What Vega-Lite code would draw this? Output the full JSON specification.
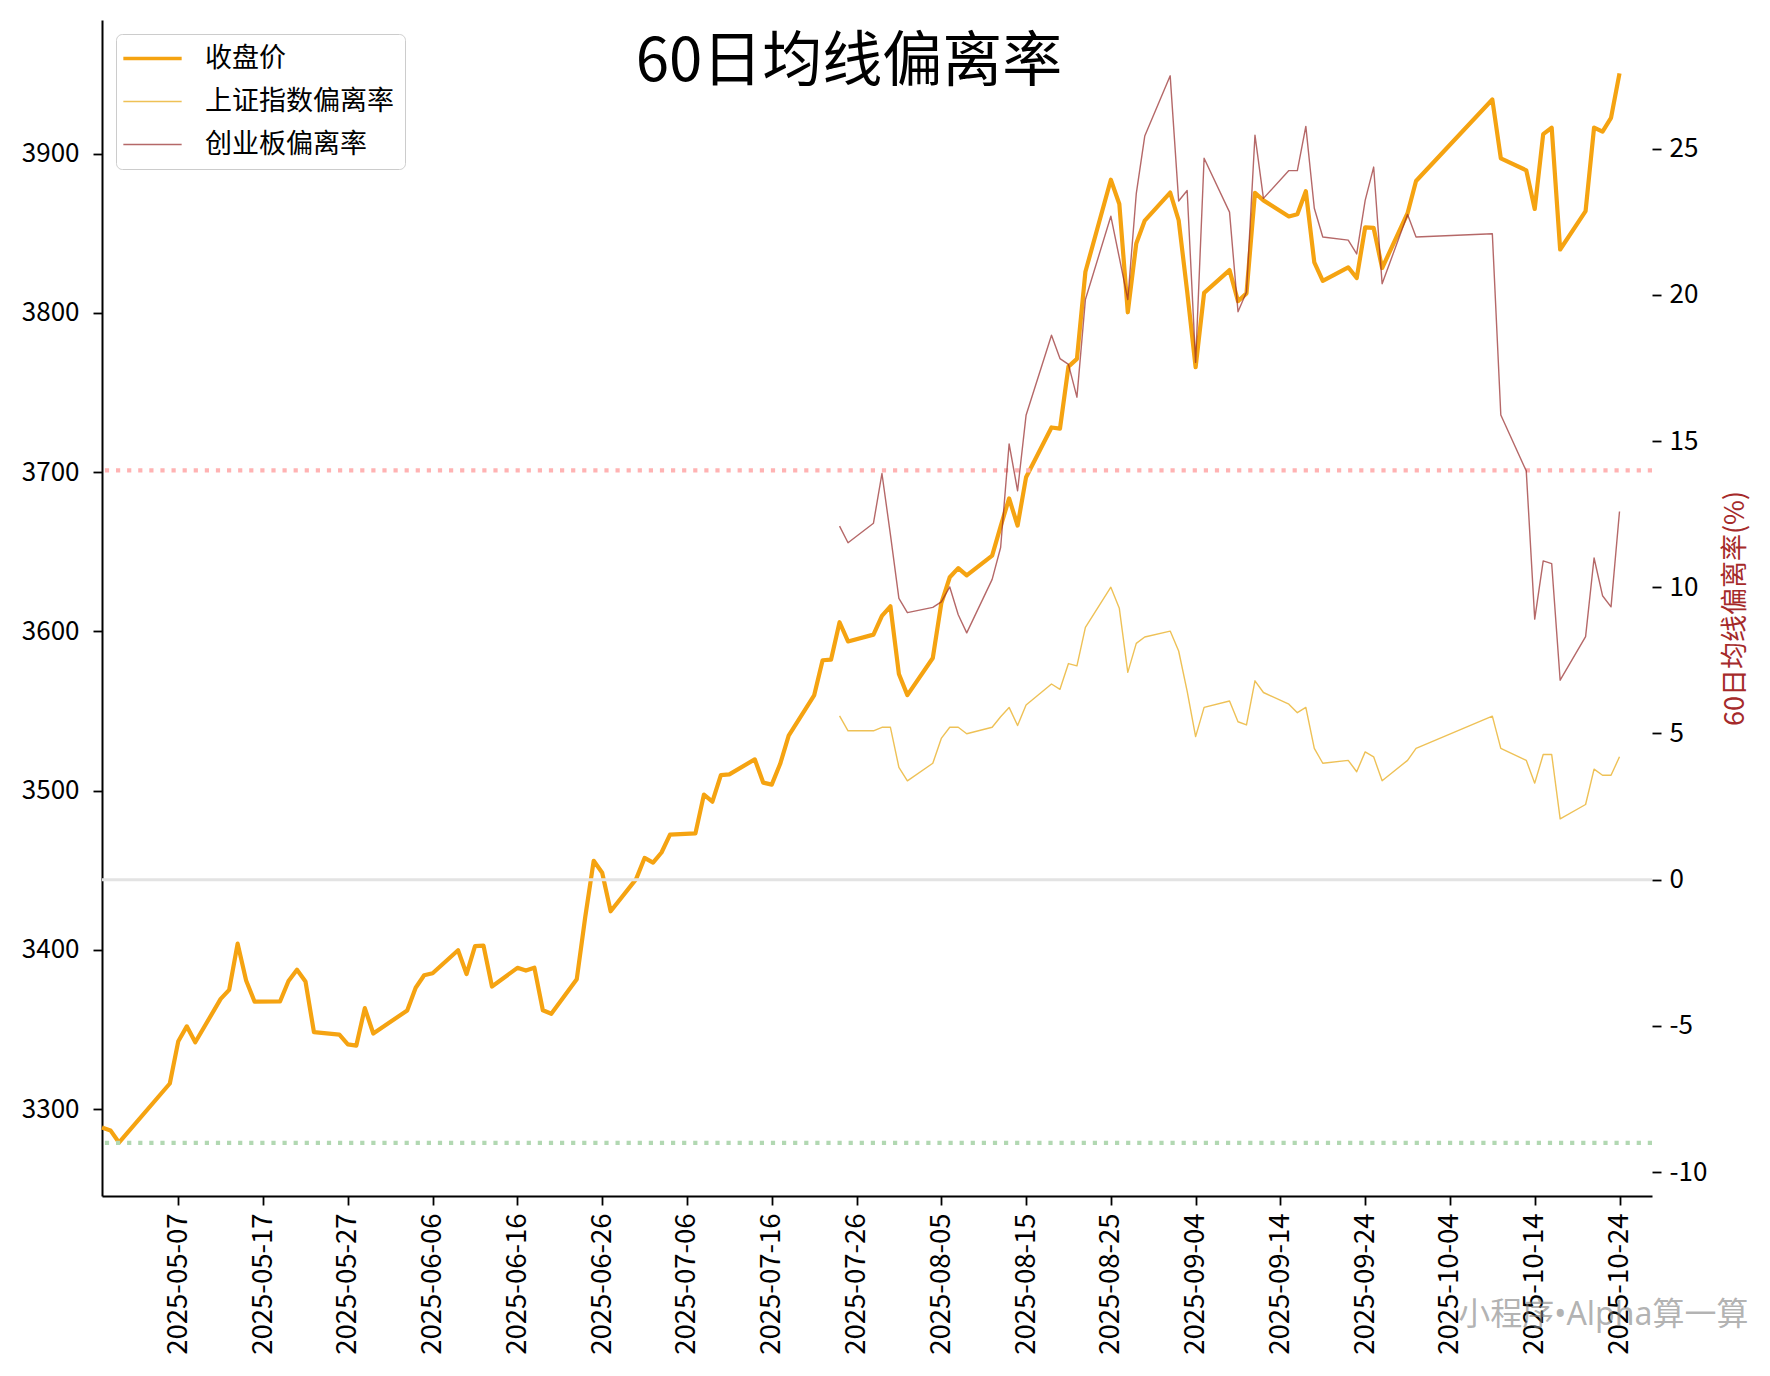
{
  "$schema": "https://vega.github.io/schema/vega-lite/v6.json",
  "width": 1550,
  "height": 1176,
  "autosize": {"type": "none"},
  "padding": {"left": 102, "top": 20, "right": 118, "bottom": 180},
  "background": "white",
  "config": {
    "view": {"stroke": null},
    "font": "Noto Sans CJK SC",
    "axis": {
      "labelFont": "Noto Sans CJK SC",
      "labelFontSize": 26,
      "labelColor": "black",
      "tickColor": "black",
      "domainColor": "black",
      "tickSize": 9,
      "tickWidth": 1.8,
      "domainWidth": 2,
      "grid": false,
      "labelPadding": 8,
      "labelFlush": false,
      "labelOverlap": false,
      "titleFontWeight": "normal"
    }
  },
  "title": {
    "text": "60日均线偏离率",
    "font": "Noto Sans CJK SC",
    "fontSize": 60,
    "fontWeight": "normal",
    "color": "black",
    "anchor": "middle",
    "frame": "group",
    "baseline": "bottom",
    "offset": -72,
    "dx": -28,
    "dy": 62
  },
  "data": {"name": "idx"},
  "layer": [
    {
      "mark": {"type": "line", "strokeWidth": 4.2, "strokeJoin": "round"},
      "encoding": {
        "x": {
          "field": "d",
          "type": "temporal",
          "scale": {
            "type": "utc",
            "domain": [
              {"year": 2025, "month": 4, "date": 28, "utc": true},
              {"year": 2025, "month": 10, "date": 27, "hours": 20, "utc": true}
            ]
          },
          "axis": {
            "orient": "bottom",
            "labelExpr": "utcFormat(datum.value, '%Y-%m-%d')",
            "labelAngle": 270,
            "labelFontSize": 27.5,
            "values": [
              {"year": 2025, "month": 5, "date": 7, "utc": true},
              {"year": 2025, "month": 5, "date": 17, "utc": true},
              {"year": 2025, "month": 5, "date": 27, "utc": true},
              {"year": 2025, "month": 6, "date": 6, "utc": true},
              {"year": 2025, "month": 6, "date": 16, "utc": true},
              {"year": 2025, "month": 6, "date": 26, "utc": true},
              {"year": 2025, "month": 7, "date": 6, "utc": true},
              {"year": 2025, "month": 7, "date": 16, "utc": true},
              {"year": 2025, "month": 7, "date": 26, "utc": true},
              {"year": 2025, "month": 8, "date": 5, "utc": true},
              {"year": 2025, "month": 8, "date": 15, "utc": true},
              {"year": 2025, "month": 8, "date": 25, "utc": true},
              {"year": 2025, "month": 9, "date": 4, "utc": true},
              {"year": 2025, "month": 9, "date": 14, "utc": true},
              {"year": 2025, "month": 9, "date": 24, "utc": true},
              {"year": 2025, "month": 10, "date": 4, "utc": true},
              {"year": 2025, "month": 10, "date": 14, "utc": true},
              {"year": 2025, "month": 10, "date": 24, "utc": true}
            ],
            "title": "小程序•Alpha算一算",
            "titleFont": "Noto Sans, Noto Sans CJK SC",
            "titleFontSize": 32,
            "titleColor": "rgba(128,128,128,0.6)",
            "titleAlign": "right",
            "titleBaseline": "alphabetic",
            "titleX": 1646,
            "titleY": 128
          }
        },
        "y": {
          "field": "收盘价",
          "type": "quantitative",
          "scale": {"domain": [3245.47, 3983.87], "nice": false, "zero": false},
          "axis": {
            "orient": "left",
            "values": [3300, 3400, 3500, 3600, 3700, 3800, 3900],
            "format": "d",
            "labelPadding": 14,
            "title": null
          }
        },
        "color": {
          "datum": "收盘价",
          "type": "nominal",
          "title": null,
          "scale": {
            "domain": ["收盘价", "上证指数偏离率", "创业板偏离率"],
            "range": ["#f5a311", "rgba(232,172,30,0.75)", "rgba(150,40,40,0.7)"]
          },
          "legend": {
            "title": null,
            "orient": "none",
            "legendX": 14,
            "legendY": 14,
            "symbolType": "stroke",
            "symbolSize": 3400,
            "symbolStrokeWidth": 1.4,
            "symbolOffset": 12,
            "labelFont": "Noto Sans CJK SC",
            "labelFontSize": 27,
            "labelColor": "black",
            "labelOffset": 39,
            "labelLimit": 400,
            "rowPadding": 15,
            "padding": 11,
            "strokeColor": "#cccccc",
            "fillColor": "rgba(255,255,255,0.8)",
            "cornerRadius": 6,
            "encode": {
              "symbols": {
                "update": {
                  "strokeWidth": {"signal": "datum.value === '收盘价' ? 3.5 : 1.4"}
                }
              }
            }
          }
        }
      }
    },
    {
      "encoding": {
        "y": {
          "field": "v",
          "type": "quantitative",
          "scale": {"domain": [-10.82, 29.4], "nice": false, "zero": false},
          "axis": {
            "orient": "right",
            "values": [-10, -5, 0, 5, 10, 15, 20, 25],
            "labelExpr": "'' + datum.value",
            "domain": false,
            "title": "60日均线偏离率(%)",
            "titleFont": "Noto Sans CJK SC",
            "titleFontSize": 27,
            "titleColor": "#a52a2a",
            "titleAngle": 270,
            "titleAlign": "center",
            "titleBaseline": "middle",
            "titleX": 83,
            "titleY": 588
          }
        }
      },
      "layer": [
        {
          "data": {"values": [{"v": 14}]},
          "mark": {"type": "rule", "color": "#ffb3b3", "strokeWidth": 4.2, "strokeDash": [4.2, 6.9]}
        },
        {
          "data": {"values": [{"v": 0}]},
          "mark": {"type": "rule", "color": "#e3e3e3", "strokeWidth": 3}
        },
        {
          "data": {"values": [{"v": -9}]},
          "mark": {"type": "rule", "color": "#b2d8b2", "strokeWidth": 4.2, "strokeDash": [4.2, 6.9]}
        },
        {
          "transform": [
            {"fold": ["上证指数偏离率", "创业板偏离率"], "as": ["series", "v"]},
            {"filter": "isValid(datum.v)"}
          ],
          "mark": {"type": "line", "strokeWidth": 1.4, "strokeJoin": "round"},
          "encoding": {
            "x": {
              "field": "d",
              "type": "temporal",
              "scale": {
                "type": "utc",
                "domain": [
                  {"year": 2025, "month": 4, "date": 28, "utc": true},
                  {"year": 2025, "month": 10, "date": 27, "hours": 20, "utc": true}
                ]
              }
            },
            "color": {"field": "series", "type": "nominal", "title": null, "legend": {"title": null}},
            "detail": {"field": "series"}
          }
        }
      ]
    }
  ],
  "resolve": {"scale": {"y": "independent"}},
  "datasets": {
    "idx": [
      {"d": "2025-04-28", "收盘价": 3288.41},
      {"d": "2025-04-29", "收盘价": 3286.65},
      {"d": "2025-04-30", "收盘价": 3279.03},
      {"d": "2025-05-06", "收盘价": 3316.11},
      {"d": "2025-05-07", "收盘价": 3342.67},
      {"d": "2025-05-08", "收盘价": 3352.00},
      {"d": "2025-05-09", "收盘价": 3341.97},
      {"d": "2025-05-12", "收盘价": 3369.24},
      {"d": "2025-05-13", "收盘价": 3374.87},
      {"d": "2025-05-14", "收盘价": 3403.95},
      {"d": "2025-05-15", "收盘价": 3380.82},
      {"d": "2025-05-16", "收盘价": 3367.46},
      {"d": "2025-05-19", "收盘价": 3367.58},
      {"d": "2025-05-20", "收盘价": 3380.48},
      {"d": "2025-05-21", "收盘价": 3387.57},
      {"d": "2025-05-22", "收盘价": 3380.19},
      {"d": "2025-05-23", "收盘价": 3348.37},
      {"d": "2025-05-26", "收盘价": 3346.84},
      {"d": "2025-05-27", "收盘价": 3340.69},
      {"d": "2025-05-28", "收盘价": 3339.93},
      {"d": "2025-05-29", "收盘价": 3363.45},
      {"d": "2025-05-30", "收盘价": 3347.49},
      {"d": "2025-06-03", "收盘价": 3361.98},
      {"d": "2025-06-04", "收盘价": 3376.20},
      {"d": "2025-06-05", "收盘价": 3384.10},
      {"d": "2025-06-06", "收盘价": 3385.36},
      {"d": "2025-06-09", "收盘价": 3399.77},
      {"d": "2025-06-10", "收盘价": 3384.82},
      {"d": "2025-06-11", "收盘价": 3402.32},
      {"d": "2025-06-12", "收盘价": 3402.66},
      {"d": "2025-06-13", "收盘价": 3377.00},
      {"d": "2025-06-16", "收盘价": 3388.73},
      {"d": "2025-06-17", "收盘价": 3386.99},
      {"d": "2025-06-18", "收盘价": 3388.81},
      {"d": "2025-06-19", "收盘价": 3362.11},
      {"d": "2025-06-20", "收盘价": 3359.90},
      {"d": "2025-06-23", "收盘价": 3381.58},
      {"d": "2025-06-24", "收盘价": 3420.57},
      {"d": "2025-06-25", "收盘价": 3455.97},
      {"d": "2025-06-26", "收盘价": 3448.45},
      {"d": "2025-06-27", "收盘价": 3424.23},
      {"d": "2025-06-30", "收盘价": 3444.43},
      {"d": "2025-07-01", "收盘价": 3457.75},
      {"d": "2025-07-02", "收盘价": 3454.79},
      {"d": "2025-07-03", "收盘价": 3461.15},
      {"d": "2025-07-04", "收盘价": 3472.32},
      {"d": "2025-07-07", "收盘价": 3473.13},
      {"d": "2025-07-08", "收盘价": 3497.48},
      {"d": "2025-07-09", "收盘价": 3493.05},
      {"d": "2025-07-10", "收盘价": 3509.68},
      {"d": "2025-07-11", "收盘价": 3510.18},
      {"d": "2025-07-14", "收盘价": 3519.65},
      {"d": "2025-07-15", "收盘价": 3505.00},
      {"d": "2025-07-16", "收盘价": 3503.78},
      {"d": "2025-07-17", "收盘价": 3516.83},
      {"d": "2025-07-18", "收盘价": 3534.48},
      {"d": "2025-07-21", "收盘价": 3559.79},
      {"d": "2025-07-22", "收盘价": 3581.86},
      {"d": "2025-07-23", "收盘价": 3582.30},
      {"d": "2025-07-24", "收盘价": 3605.73, "上证指数偏离率": 5.60, "创业板偏离率": 12.09},
      {"d": "2025-07-25", "收盘价": 3593.66, "上证指数偏离率": 5.09, "创业板偏离率": 11.52},
      {"d": "2025-07-28", "收盘价": 3597.94, "上证指数偏离率": 5.09, "创业板偏离率": 12.19},
      {"d": "2025-07-29", "收盘价": 3609.71, "上证指数偏离率": 5.21, "创业板偏离率": 13.89},
      {"d": "2025-07-30", "收盘价": 3615.72, "上证指数偏离率": 5.21, "创业板偏离率": 11.80},
      {"d": "2025-07-31", "收盘价": 3573.21, "上证指数偏离率": 3.84, "创业板偏离率": 9.62},
      {"d": "2025-08-01", "收盘价": 3559.95, "上证指数偏离率": 3.38, "创业板偏离率": 9.13},
      {"d": "2025-08-04", "收盘价": 3583.31, "上证指数偏离率": 3.98, "创业板偏离率": 9.31},
      {"d": "2025-08-05", "收盘价": 3617.60, "上证指数偏离率": 4.83, "创业板偏离率": 9.50},
      {"d": "2025-08-06", "收盘价": 3633.99, "上证指数偏离率": 5.21, "创业板偏离率": 10.01},
      {"d": "2025-08-07", "收盘价": 3639.67, "上证指数偏离率": 5.21, "创业板偏离率": 9.06},
      {"d": "2025-08-08", "收盘价": 3635.13, "上证指数偏离率": 4.99, "创业板偏离率": 8.44},
      {"d": "2025-08-11", "收盘价": 3647.55, "上证指数偏离率": 5.21, "创业板偏离率": 10.27},
      {"d": "2025-08-12", "收盘价": 3665.92, "上证指数偏离率": 5.57, "创业板偏离率": 11.36},
      {"d": "2025-08-13", "收盘价": 3683.46, "上证指数偏离率": 5.89, "创业板偏离率": 14.90},
      {"d": "2025-08-14", "收盘价": 3666.44, "上证指数偏离率": 5.27, "创业板偏离率": 13.30},
      {"d": "2025-08-15", "收盘价": 3696.77, "上证指数偏离率": 5.97, "创业板偏离率": 15.88},
      {"d": "2025-08-18", "收盘价": 3728.03, "上证指数偏离率": 6.69, "创业板偏离率": 18.62},
      {"d": "2025-08-19", "收盘价": 3727.29, "上证指数偏离率": 6.51, "创业板偏离率": 17.82},
      {"d": "2025-08-20", "收盘价": 3766.21, "上证指数偏离率": 7.39, "创业板偏离率": 17.62},
      {"d": "2025-08-21", "收盘价": 3771.10, "上证指数偏离率": 7.31, "创业板偏离率": 16.50},
      {"d": "2025-08-22", "收盘价": 3825.76, "上证指数偏离率": 8.63, "创业板偏离率": 19.84},
      {"d": "2025-08-25", "收盘价": 3883.56, "上证指数偏离率": 10.00, "创业板偏离率": 22.69},
      {"d": "2025-08-26", "收盘价": 3868.38, "上证指数偏离率": 9.28, "创业板偏离率": 21.27},
      {"d": "2025-08-27", "收盘价": 3800.35, "上证指数偏离率": 7.09, "创业板偏离率": 19.84},
      {"d": "2025-08-28", "收盘价": 3843.60, "上证指数偏离率": 8.08, "创业板偏离率": 23.46},
      {"d": "2025-08-29", "收盘价": 3857.93, "上证指数偏离率": 8.30, "创业板偏离率": 25.43},
      {"d": "2025-09-01", "收盘价": 3875.53, "上证指数偏离率": 8.50, "创业板偏离率": 27.49},
      {"d": "2025-09-02", "收盘价": 3858.13, "上证指数偏离率": 7.82, "创业板偏离率": 23.21},
      {"d": "2025-09-03", "收盘价": 3813.56, "上证指数偏离率": 6.45, "创业板偏离率": 23.57},
      {"d": "2025-09-04", "收盘价": 3765.88, "上证指数偏离率": 4.89, "创业板偏离率": 17.69},
      {"d": "2025-09-05", "收盘价": 3812.51, "上证指数偏离率": 5.89, "创业板偏离率": 24.67},
      {"d": "2025-09-08", "收盘价": 3826.84, "上证指数偏离率": 6.11, "创业板偏离率": 22.83},
      {"d": "2025-09-09", "收盘价": 3807.29, "上证指数偏离率": 5.40, "创业板偏离率": 19.42},
      {"d": "2025-09-10", "收盘价": 3812.22, "上证指数偏离率": 5.29, "创业板偏离率": 20.10},
      {"d": "2025-09-11", "收盘价": 3875.31, "上证指数偏离率": 6.80, "创业板偏离率": 25.46},
      {"d": "2025-09-12", "收盘价": 3870.60, "上证指数偏离率": 6.40, "创业板偏离率": 23.30},
      {"d": "2025-09-15", "收盘价": 3860.50, "上证指数偏离率": 6.00, "创业板偏离率": 24.25},
      {"d": "2025-09-16", "收盘价": 3861.87, "上证指数偏离率": 5.71, "创业板偏离率": 24.25},
      {"d": "2025-09-17", "收盘价": 3876.34, "上证指数偏离率": 5.89, "创业板偏离率": 25.76},
      {"d": "2025-09-18", "收盘价": 3831.66, "上证指数偏离率": 4.49, "创业板偏离率": 22.96},
      {"d": "2025-09-19", "收盘价": 3820.09, "上证指数偏离率": 3.98, "创业板偏离率": 21.98},
      {"d": "2025-09-22", "收盘价": 3828.58, "上证指数偏离率": 4.08, "创业板偏离率": 21.87},
      {"d": "2025-09-23", "收盘价": 3821.83, "上证指数偏离率": 3.69, "创业板偏离率": 21.40},
      {"d": "2025-09-24", "收盘价": 3853.64, "上证指数偏离率": 4.37, "创业板偏离率": 23.23},
      {"d": "2025-09-25", "收盘价": 3853.30, "上证指数偏离率": 4.20, "创业板偏离率": 24.37},
      {"d": "2025-09-26", "收盘价": 3828.11, "上证指数偏离率": 3.38, "创业板偏离率": 20.38},
      {"d": "2025-09-29", "收盘价": 3862.53, "上证指数偏离率": 4.08, "创业板偏离率": 22.75},
      {"d": "2025-09-30", "收盘价": 3882.78, "上证指数偏离率": 4.49, "创业板偏离率": 21.98},
      {"d": "2025-10-09", "收盘价": 3933.97, "上证指数偏离率": 5.59, "创业板偏离率": 22.09},
      {"d": "2025-10-10", "收盘价": 3897.03, "上证指数偏离率": 4.49, "创业板偏离率": 15.89},
      {"d": "2025-10-13", "收盘价": 3889.50, "上证指数偏离率": 4.08, "创业板偏离率": 13.98},
      {"d": "2025-10-14", "收盘价": 3865.23, "上证指数偏离率": 3.30, "创业板偏离率": 8.91},
      {"d": "2025-10-15", "收盘价": 3912.21, "上证指数偏离率": 4.28, "创业板偏离率": 10.90},
      {"d": "2025-10-16", "收盘价": 3916.23, "上证指数偏离率": 4.28, "创业板偏离率": 10.81},
      {"d": "2025-10-17", "收盘价": 3839.76, "上证指数偏离率": 2.08, "创业板偏离率": 6.82},
      {"d": "2025-10-20", "收盘价": 3863.89, "上证指数偏离率": 2.57, "创业板偏离率": 8.31},
      {"d": "2025-10-21", "收盘价": 3916.33, "上证指数偏离率": 3.78, "创业板偏离率": 11.00},
      {"d": "2025-10-22", "收盘价": 3913.76, "上证指数偏离率": 3.57, "创业板偏离率": 9.71},
      {"d": "2025-10-23", "收盘价": 3922.41, "上证指数偏离率": 3.57, "创业板偏离率": 9.33},
      {"d": "2025-10-24", "收盘价": 3950.31, "上证指数偏离率": 4.20, "创业板偏离率": 12.59}
    ]
  }
}
